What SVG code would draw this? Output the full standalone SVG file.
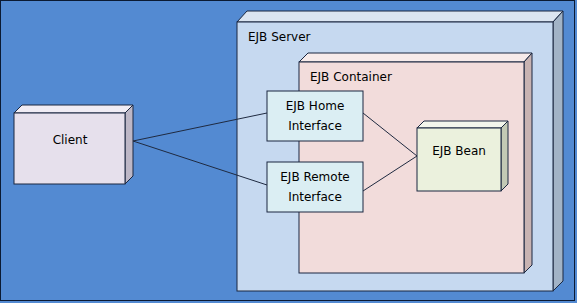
<svg xmlns="http://www.w3.org/2000/svg" width="577" height="303" viewBox="0 0 577 303">
<style>
text{font-family:"DejaVu Sans","Verdana",sans-serif;font-size:12px;fill:#000}
.c{text-anchor:middle}
.e{stroke:#1a2740;stroke-width:1}
.conn{stroke:#1f2a40;stroke-width:1;fill:none}
</style>
<rect x="0" y="0" width="577" height="303" fill="#538ad2"/>
<rect x="0.5" y="0.5" width="574" height="300" fill="none" stroke="#0b1a33"/>
<g id="ejb-server">
<polygon points="237,22 247,11 563,11 553,22" fill="#dbe5f1" class="e"/>
<polygon points="553,22 563,11 563,281 553,291" fill="#a2b3c6" class="e"/>
<rect x="237" y="22" width="316" height="269" fill="#c6d9f0" class="e"/>
<text x="248" y="41">EJB Server</text>
</g>
<g id="ejb-container">
<polygon points="299,62 308,53 532,53 524,62" fill="#f7ebea" class="e"/>
<polygon points="524,62 532,53 532,265 524,273" fill="#c8b3b2" class="e"/>
<rect x="299" y="62" width="225" height="211" fill="#f2dcdb" class="e"/>
<text x="310" y="81">EJB Container</text>
</g>
<g id="client">
<polygon points="14,113 22,105 133,105 125,113" fill="#f0ecf4" class="e"/>
<polygon points="125,113 133,105 133,176 125,184" fill="#bdb7c6" class="e"/>
<rect x="14" y="113" width="111" height="71" fill="#e6e0ec" class="e"/>
<text class="c" x="70" y="144">Client</text>
</g>
<g id="ejb-home-interface">
<rect x="267" y="91" width="96" height="50" fill="#dbeef3" class="e"/>
<text class="c" x="315" y="110">EJB Home</text>
<text class="c" x="315" y="130">Interface</text>
</g>
<g id="ejb-remote-interface">
<rect x="267" y="162" width="96" height="50" fill="#dbeef3" class="e"/>
<text class="c" x="315" y="181">EJB Remote</text>
<text class="c" x="315" y="201">Interface</text>
</g>
<g id="ejb-bean">
<polygon points="417,128 424,121 508,121 501,128" fill="#f3f6ec" class="e"/>
<polygon points="501,128 508,121 508,184 501,191" fill="#c3c9b5" class="e"/>
<rect x="417" y="128" width="84" height="63" fill="#ebf1dd" class="e"/>
<text class="c" x="459" y="155">EJB Bean</text>
</g>
<g id="connectors">
<line class="conn" x1="133" y1="141" x2="267" y2="113"/>
<line class="conn" x1="133" y1="141" x2="267" y2="185"/>
<line class="conn" x1="363" y1="113" x2="417" y2="156"/>
<line class="conn" x1="363" y1="191" x2="417" y2="156"/>
</g>
</svg>
